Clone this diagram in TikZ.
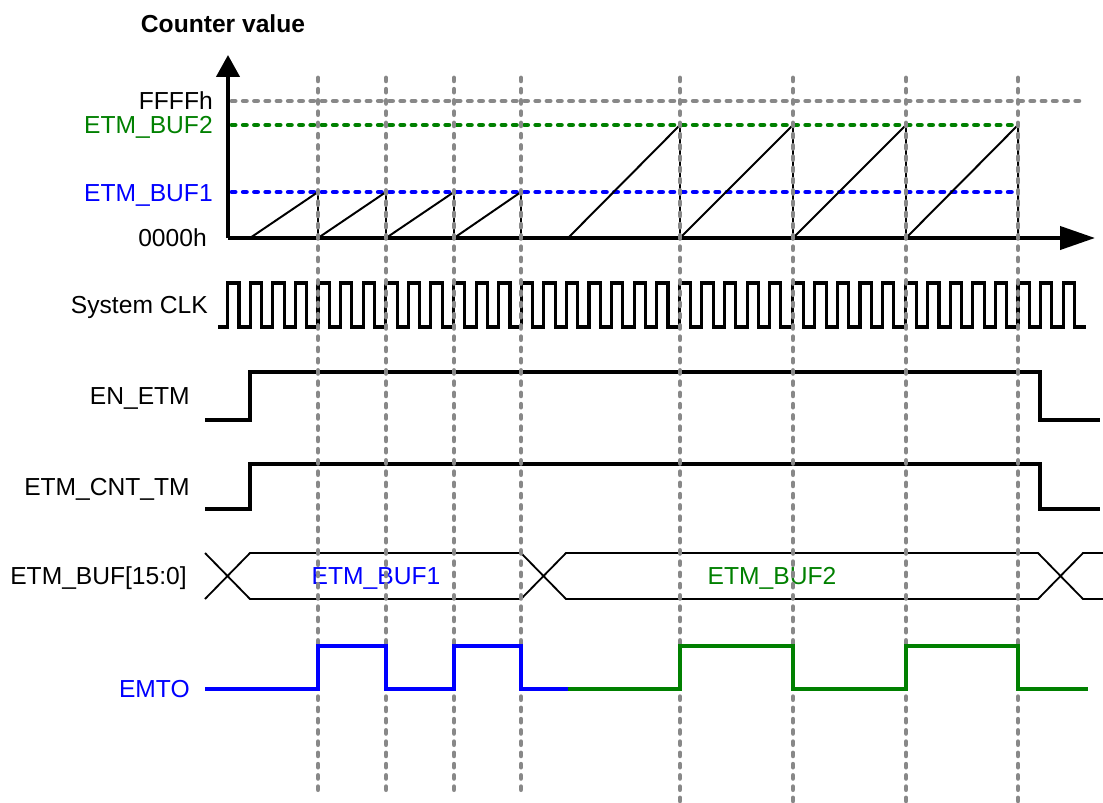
\documentclass[tikz,border=0pt]{standalone}
\usepackage{fontspec}
\setmainfont{Liberation Sans}
\usetikzlibrary{arrows.meta}
\definecolor{BufOne}{HTML}{0000FF}
\definecolor{BufTwo}{HTML}{008000}
\definecolor{Guide}{HTML}{888888}
\newcommand{\labelsize}{\fontsize{17.5pt}{21pt}\selectfont}
\tikzset{
    siglabel/.style={anchor=east, inner sep=0pt, text height=12.6pt, text depth=0pt, font=\labelsize},
    buslabel/.style={siglabel, anchor=center},
    axis/.style={line width=2.8pt, black},
    ramp/.style={line width=1.4pt},
    wave/.style={line width=2.2pt},
    bus/.style={line width=1.3pt},
    emto/.style={line width=2.8pt},
    level/.style={line width=3.5pt, line cap=round, dash pattern=on 2.2pt off 5.8pt},
    guide/.style={Guide, line width=3.5pt, line cap=round, dash pattern=on 2pt off 6pt},
}

\begin{document}
\begin{tikzpicture}[x=0.025cm, y=-0.025cm]
    \useasboundingbox (0,0) rectangle (1103,802);

    % Origine e livelli del contatore
    \coordinate (O) at (228,238);
    \coordinate (Ytop) at (228,55);
    \coordinate (Xend) at (1095,238);

    \node[font=\labelsize\bfseries, inner sep=0pt] (ylab) at (223,24) {Counter value};
    \node[siglabel] (lffff) at (213,101) {FFFFh};
    \node[siglabel, text=BufTwo] (lbuf2) at (213,125) {ETM\_BUF2};
    \node[siglabel, text=BufOne] (lbuf1) at (213,193) {ETM\_BUF1};
    \node[siglabel] (lzero) at (207,238) {0000h};

    \draw[level, Guide] (232,101) -- (1085,101);   % FFFFh
    \draw[level, BufTwo] (232,125) -- (1018,125);  % soglia 2
    \draw[level, BufOne] (232,192) -- (1018,192);  % soglia 1

    % Dente di sega: prima con ETM_BUF1, poi con ETM_BUF2
    \draw[ramp] (250,238) -- (318,192) -- (318,238) -- (386,192) -- (386,238)
        -- (454,192) -- (454,238) -- (521,192) -- (521,238);
    \draw[ramp] (568,238) -- (680,125) -- (680,238) -- (793,125) -- (793,238)
        -- (906,125) -- (906,238) -- (1018,125) -- (1018,238);

    % Assi
    \draw[axis, -{Triangle[length=15.6pt, width=16.4pt]}] (O) -- (Ytop);
    \draw[axis, -{Triangle[length=24.9pt, width=16.4pt]}] (O) -- (Xend);

    % Segnali
    \node[siglabel] (lclk) at (208,305) {System CLK};
    \node[siglabel] (len) at (190,396) {EN\_ETM};
    \node[siglabel] (lcnt) at (190,487) {ETM\_CNT\_TM};
    \node[siglabel] (lbus) at (187,576) {ETM\_BUF[15:0]};
    \node[siglabel, text=BufOne] (lemto) at (190,689) {EMTO};

    \draw[wave] (218,327) \foreach \k in {0,...,37} {
        -- ({227.7+22.58*\k},327) -- ({227.7+22.58*\k},283)
        -- ({239+22.58*\k},283) -- ({239+22.58*\k},327) } -- (1086,327);

    \draw[wave] (205,420) -- (250,420) -- (250,372) -- (1040,372) -- (1040,420) -- (1100,420);
    \draw[wave] (205,509) -- (250,509) -- (250,464) -- (1040,464) -- (1040,509) -- (1100,509);

    % Bus ETM_BUF[15:0]
    \draw[bus] (205,599) -- (250,553) -- (521,553) -- (566,599) -- (1038,599) -- (1083,553) -- (1103,553);
    \draw[bus] (205,553) -- (250,599) -- (521,599) -- (566,553) -- (1038,553) -- (1083,599) -- (1103,599);
    \node[buslabel, text=BufOne] (vbuf1) at (376,576) {ETM\_BUF1};
    \node[buslabel, text=BufTwo] (vbuf2) at (772,576) {ETM\_BUF2};

    % Linee guida verticali
    \foreach \x in {318,386,454,521}
        \draw[guide] (\x,78) -- (\x,797);
    \foreach \x in {680,793,906,1018}
        \draw[guide] (\x,78) -- (\x,802);

    % Uscita EMTO
    \draw[emto, BufOne] (205,689) -- (318,689) -- (318,646) -- (386,646) -- (386,689)
        -- (454,689) -- (454,646) -- (521,646) -- (521,689) -- (568,689);
    \draw[emto, BufTwo] (568,689) -- (680,689) -- (680,646) -- (793,646) -- (793,689)
        -- (906,689) -- (906,646) -- (1018,646) -- (1018,689) -- (1088,689);
\end{tikzpicture}
\end{document}
